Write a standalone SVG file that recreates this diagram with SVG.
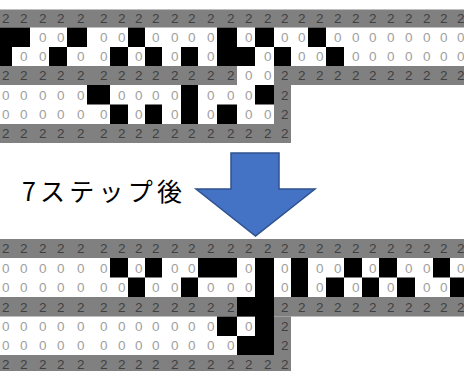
<svg xmlns="http://www.w3.org/2000/svg" width="464" height="371" viewBox="0 0 464 371">
<style>
.g{fill:#808080}
.b{fill:#000}
.t2{font-family:"Liberation Sans",Arial,sans-serif;font-size:13.5px;fill:#404040;text-anchor:end}
.t0{font-family:"Liberation Sans",Arial,sans-serif;font-size:13.5px;fill:#a0a0a0;text-anchor:end}
.lbl{font-family:"Noto Sans CJK JP",sans-serif;font-size:25px;fill:#000}
</style>
<rect width="464" height="371" fill="#fff"/>
<g id="grid-before">
<rect class="g" x="0" y="9.5" width="467" height="18"/>
<rect class="g" x="0" y="66" width="237" height="19"/>
<rect class="g" x="274" y="66" width="193" height="19"/>
<rect class="g" x="274" y="85" width="17" height="39"/>
<rect class="g" x="0" y="124" width="291" height="19"/>
<rect class="b" x="0" y="27.5" width="30" height="19.5"/>
<rect class="b" x="67" y="27.5" width="20" height="19.5"/>
<rect class="b" x="128" y="27.5" width="17" height="19.5"/>
<rect class="b" x="217" y="27.5" width="20" height="19.5"/>
<rect class="b" x="255" y="27.5" width="19" height="19.5"/>
<rect class="b" x="308" y="27.5" width="18" height="19.5"/>
<rect class="b" x="0" y="47" width="12" height="19"/>
<rect class="b" x="49" y="47" width="18" height="19"/>
<rect class="b" x="110" y="47" width="18" height="19"/>
<rect class="b" x="145" y="47" width="17" height="19"/>
<rect class="b" x="181" y="47" width="17" height="19"/>
<rect class="b" x="217" y="47" width="38" height="19"/>
<rect class="b" x="274" y="47" width="17" height="19"/>
<rect class="b" x="326" y="47" width="18" height="19"/>
<rect class="b" x="87" y="85" width="23" height="19.5"/>
<rect class="b" x="181" y="85" width="17" height="39"/>
<rect class="b" x="255" y="85" width="19" height="19.5"/>
<rect class="b" x="110" y="104.5" width="18" height="19.5"/>
<rect class="b" x="145" y="104.5" width="17" height="19.5"/>
<rect class="b" x="217" y="104.5" width="20" height="19.5"/>
<text class="t2" y="23" x="9.5 27.5 46.5 64.5 84.5 107.5 125.5 142.5 159.5 178.5 195.5 214.5 234.5 252.5 271.5 288.5 305.5 323.5 341.5 359.5 376.5 394.5 412.5 430.5 447.5 464.5">22222222222222222222222222</text>
<text class="t0" y="42" x="46.5 64.5 107.5 125.5 159.5 178.5 195.5 214.5 252.5 288.5 305.5 341.5 359.5 376.5 394.5 412.5 430.5 447.5 464.5">0000000000000000000</text>
<text class="t0" y="61" x="27.5 46.5 84.5 107.5 142.5 178.5 214.5 271.5 305.5 323.5 359.5 376.5 394.5 412.5 430.5 447.5 464.5">00000000000000000</text>
<text class="t2" y="80" x="9.5 27.5 46.5 64.5 84.5 107.5 125.5 142.5 159.5 178.5 195.5 214.5 234.5">2222222222222</text>
<text class="t0" y="80" x="252.5 271.5">00</text>
<text class="t2" y="80" x="288.5 305.5 323.5 341.5 359.5 376.5 394.5 412.5 430.5 447.5 464.5">22222222222</text>
<text class="t0" y="99.5" x="9.5 27.5 46.5 64.5 84.5 125.5 142.5 159.5 178.5 214.5 234.5 252.5">000000000000</text>
<text class="t2" y="99.5" x="288.5">2</text>
<text class="t0" y="119" x="9.5 27.5 46.5 64.5 84.5 107.5 142.5 178.5 214.5 252.5 271.5">00000000000</text>
<text class="t2" y="119" x="288.5">2</text>
<text class="t2" y="138" x="9.5 27.5 46.5 64.5 84.5 107.5 125.5 142.5 159.5 178.5 195.5 214.5 234.5 252.5 271.5 288.5">2222222222222222</text>
</g>
<g id="label">
<text class="lbl" x="22" y="201" textLength="160" lengthAdjust="spacing">7ステップ後</text>
</g>
<g id="connectors">
<polygon points="231,153 279,153 279,189 315,189 255.5,236 196,189 231,189" fill="#4472C4" stroke="#2F528F" stroke-width="1.5" stroke-linejoin="miter"/>
</g>
<g id="grid-after">
<rect class="g" x="0" y="239" width="467" height="19"/>
<rect class="g" x="0" y="297" width="467" height="19.5"/>
<rect class="g" x="274" y="316.5" width="17" height="38.5"/>
<rect class="g" x="0" y="355" width="291" height="19"/>
<rect class="b" x="110" y="258" width="18" height="19.5"/>
<rect class="b" x="145" y="258" width="17" height="19.5"/>
<rect class="b" x="198" y="258" width="39" height="19.5"/>
<rect class="b" x="291" y="258" width="17" height="39"/>
<rect class="b" x="344" y="258" width="18" height="19.5"/>
<rect class="b" x="379" y="258" width="18" height="19.5"/>
<rect class="b" x="433" y="258" width="17" height="19.5"/>
<rect class="b" x="128" y="277.5" width="17" height="19.5"/>
<rect class="b" x="181" y="277.5" width="17" height="19.5"/>
<rect class="b" x="326" y="277.5" width="18" height="19.5"/>
<rect class="b" x="362" y="277.5" width="17" height="19.5"/>
<rect class="b" x="397" y="277.5" width="18" height="19.5"/>
<rect class="b" x="450" y="277.5" width="17" height="19.5"/>
<rect class="b" x="255" y="258" width="19" height="97"/>
<rect class="b" x="237" y="297" width="18" height="19.5"/>
<rect class="b" x="217" y="316.5" width="20" height="19.5"/>
<rect class="b" x="237" y="336" width="18" height="19"/>
<text class="t2" y="253" x="9.5 27.5 46.5 64.5 84.5 107.5 125.5 142.5 159.5 178.5 195.5 214.5 234.5 252.5 271.5 288.5 305.5 323.5 341.5 359.5 376.5 394.5 412.5 430.5 447.5 464.5">22222222222222222222222222</text>
<text class="t0" y="272.5" x="9.5 27.5 46.5 64.5 84.5 107.5 142.5 178.5 195.5 252.5 288.5 323.5 341.5 376.5 412.5 430.5 464.5">00000000000000000</text>
<text class="t0" y="292" x="9.5 27.5 46.5 64.5 84.5 107.5 125.5 159.5 178.5 214.5 234.5 252.5 288.5 323.5 359.5 394.5 430.5 447.5">000000000000000000</text>
<text class="t2" y="311.5" x="9.5 27.5 46.5 64.5 84.5 107.5 125.5 142.5 159.5 178.5 195.5 214.5 234.5">2222222222222</text>
<text class="t2" y="311.5" x="288.5 305.5 323.5 341.5 359.5 376.5 394.5 412.5 430.5 447.5 464.5">22222222222</text>
<text class="t0" y="331" x="9.5 27.5 46.5 64.5 84.5 107.5 125.5 142.5 159.5 178.5 195.5 214.5 252.5">0000000000000</text>
<text class="t2" y="331" x="288.5">2</text>
<text class="t0" y="350" x="9.5 27.5 46.5 64.5 84.5 107.5 125.5 142.5 159.5 178.5 195.5 214.5 234.5">0000000000000</text>
<text class="t2" y="350" x="288.5">2</text>
<text class="t2" y="369" x="9.5 27.5 46.5 64.5 84.5 107.5 125.5 142.5 159.5 178.5 195.5 214.5 234.5 252.5 271.5 288.5">2222222222222222</text>
</g>
</svg>
